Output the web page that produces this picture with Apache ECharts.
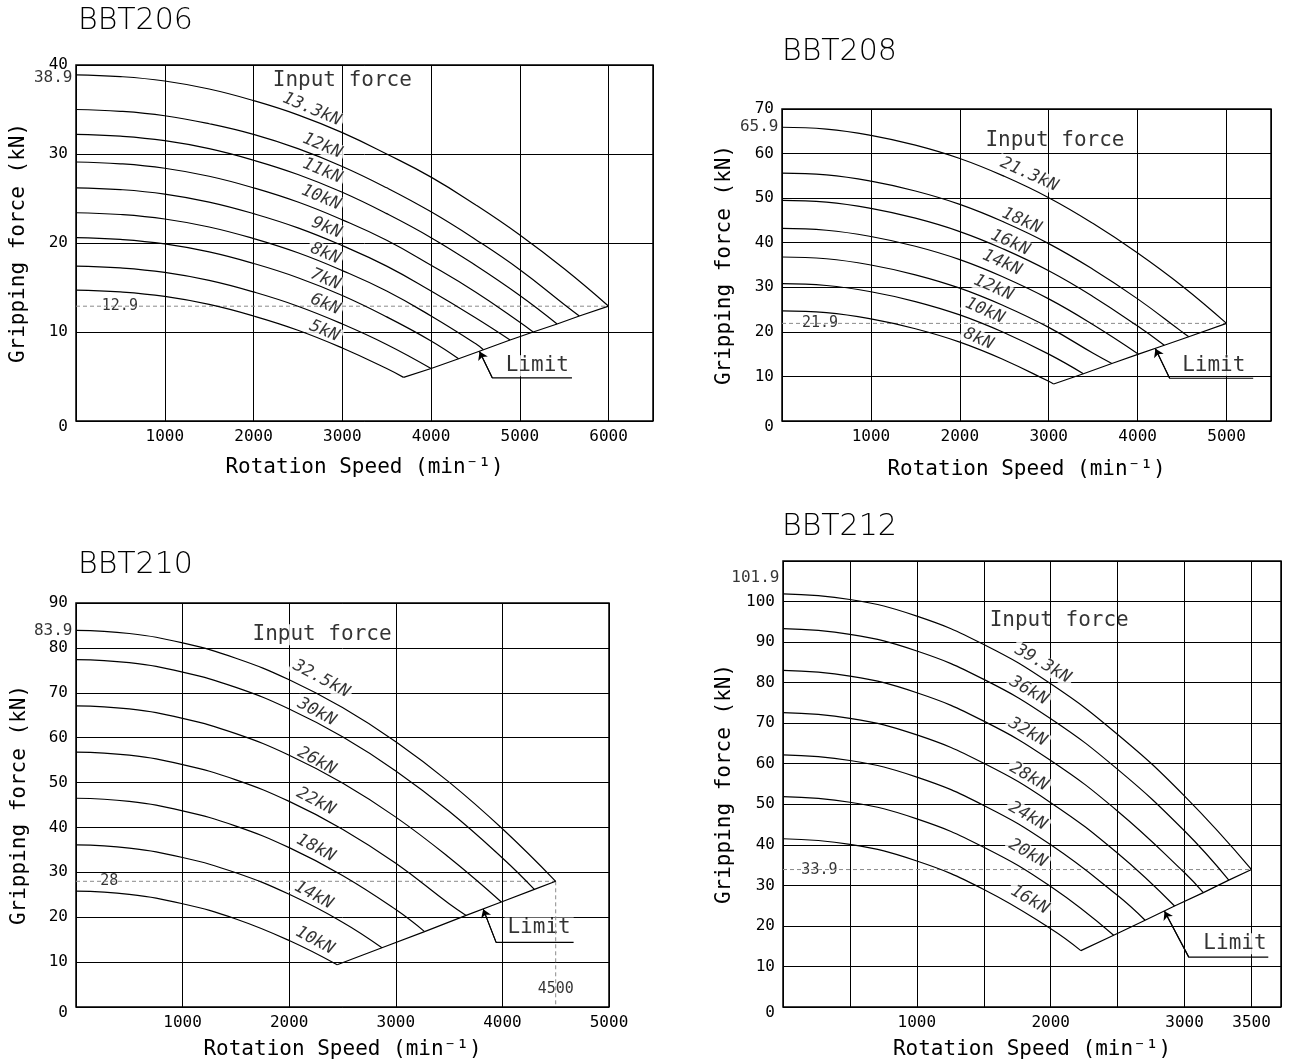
<!DOCTYPE html>
<html><head><meta charset="utf-8">
<script src="https://cdn.jsdelivr.net/npm/echarts@6/dist/echarts.min.js"></script>
<style>html,body{margin:0;padding:0;background:#fff}#c{width:1290px;height:1063px}</style>
</head><body><div id="c"></div>
<script>
// ---------- BBT206 ----------
const p1Forces = ['13.3kN','12kN','11kN','10kN','9kN','8kN','7kN','6kN','5kN'];
const bbt206_13_3 = [[0,38.9],[500,38.7],[1000,38.2],[1500,37.3],[2000,36.0],[2500,34.4],[3000,32.4],[3500,30.0],[4000,27.4],[4500,24.3],[5000,20.9],[5500,17.1],[6000,12.9]];
const bbt206_12 = [[0,35.0],[500,34.8],[1000,34.3],[1500,33.4],[2000,32.2],[2500,30.6],[3000,28.6],[3500,26.2],[4000,23.5],[4500,20.4],[5000,17.0],[5500,13.1],[5670,11.8]];
const bbt206_11 = [[0,32.2],[500,32.0],[1000,31.5],[1500,30.6],[2000,29.3],[2500,27.7],[3000,25.7],[3500,23.3],[4000,20.6],[4500,17.5],[5000,14.1],[5420,10.9]];
const bbt206_10 = [[0,29.1],[500,28.9],[1000,28.4],[1500,27.5],[2000,26.2],[2500,24.6],[3000,22.6],[3500,20.3],[4000,17.5],[4500,14.5],[5000,11.1],[5150,10.0]];
const bbt206_9 = [[0,26.2],[500,26.0],[1000,25.5],[1500,24.6],[2000,23.3],[2500,21.7],[3000,19.7],[3500,17.4],[4000,14.6],[4500,11.6],[4890,9.1]];
const bbt206_8 = [[0,23.4],[500,23.2],[1000,22.7],[1500,21.8],[2000,20.5],[2500,18.9],[3000,16.9],[3500,14.6],[4000,11.8],[4500,8.7],[4590,8.0]];
const bbt206_7 = [[0,20.6],[500,20.4],[1000,19.9],[1500,19.0],[2000,17.7],[2500,16.1],[3000,14.1],[3500,11.7],[4000,9.0],[4310,7.0]];
const bbt206_6 = [[0,17.4],[500,17.2],[1000,16.7],[1500,15.8],[2000,14.5],[2500,12.9],[3000,10.9],[3500,8.6],[4000,5.9]];
const bbt206_5 = [[0,14.7],[500,14.5],[1000,14.0],[1500,13.1],[2000,11.8],[2500,10.2],[3000,8.2],[3500,5.9],[3690,4.9]];
const bbt206_limit = [[3690,4.9],[4000,5.9],[4310,7.0],[4590,8.0],[4890,9.1],[5150,10.0],[5420,10.9],[5670,11.8],[6000,12.9]];
const bbt206_ref = 12.9, bbt206_refEnd = 6000, bbt206_start = '38.9';
const p1XTicks = [1000,2000,3000,4000,5000,6000];
const p1YTicks = [0,10,20,30,40];

// ---------- BBT208 ----------
const p2Forces = ['21.3kN','18kN','16kN','14kN','12kN','10kN','8kN'];
const bbt208_21_3 = [[0,65.9],[500,65.5],[1000,64.1],[1500,61.9],[2000,58.9],[2500,54.9],[3000,50.1],[3500,44.3],[4000,37.7],[4500,30.3],[5000,21.9]];
const bbt208_18 = [[0,55.6],[500,55.2],[1000,53.8],[1500,51.6],[2000,48.6],[2500,44.6],[3000,39.8],[3500,34.0],[4000,27.4],[4500,20.0],[4575,18.9]];
const bbt208_16 = [[0,49.5],[500,49.1],[1000,47.7],[1500,45.5],[2000,42.5],[2500,38.5],[3000,33.7],[3500,27.9],[4000,21.3],[4300,17.0]];
const bbt208_14 = [[0,43.2],[500,42.8],[1000,41.4],[1500,39.2],[2000,36.2],[2500,32.2],[3000,27.4],[3500,21.6],[4010,15.0]];
const bbt208_12 = [[0,36.8],[500,36.4],[1000,35.0],[1500,32.8],[2000,29.8],[2500,25.8],[3000,21.0],[3500,15.2],[3710,12.9]];
const bbt208_10 = [[0,30.8],[500,30.4],[1000,29.0],[1500,26.8],[2000,23.8],[2500,19.8],[3000,15.0],[3390,10.6]];
const bbt208_8 = [[0,24.7],[500,24.3],[1000,22.9],[1500,20.7],[2000,17.7],[2500,13.7],[3000,8.9],[3055,8.3]];
const bbt208_limit = [[3055,8.3],[3390,10.6],[3710,12.9],[4010,15.0],[4300,17.0],[4575,18.9],[5000,21.9]];
const bbt208_ref = 21.9, bbt208_refEnd = 5000, bbt208_start = '65.9';
const p2XTicks = [1000,2000,3000,4000,5000];
const p2YTicks = [0,10,20,30,40,50,60,70];

// ---------- BBT210 ----------
const p3Forces = ['32.5kN','30kN','26kN','22kN','18kN','14kN','10kN'];
const bbt210_32_5 = [[0,83.9],[500,83.2],[1000,81.1],[1500,77.7],[2000,72.9],[2500,66.7],[3000,59.1],[3500,50.1],[4000,39.7],[4500,28.0]];
const bbt210_30 = [[0,77.4],[500,76.7],[1000,74.6],[1500,71.2],[2000,66.4],[2500,60.2],[3000,52.6],[3500,43.6],[4000,33.2],[4300,26.2]];
const bbt210_26 = [[0,67.1],[500,66.4],[1000,64.3],[1500,60.9],[2000,56.1],[2500,49.9],[3000,42.3],[3500,33.3],[3990,23.4]];
const bbt210_22 = [[0,56.8],[500,56.1],[1000,54.0],[1500,50.6],[2000,45.8],[2500,39.6],[3000,32.0],[3500,23.0],[3660,20.4]];
const bbt210_18 = [[0,46.5],[500,45.8],[1000,43.7],[1500,40.3],[2000,35.5],[2500,29.3],[3000,21.7],[3270,16.8]];
const bbt210_14 = [[0,36.1],[500,35.4],[1000,33.3],[1500,29.9],[2000,25.1],[2500,18.9],[2870,13.2]];
const bbt210_10 = [[0,25.8],[500,25.1],[1000,23.0],[1500,19.6],[2000,14.8],[2450,9.4]];
const bbt210_limit = [[2450,9.4],[2870,13.2],[3270,16.8],[3660,20.4],[3990,23.4],[4300,26.2],[4500,28.0]];
const bbt210_ref = 28, bbt210_refEnd = 4500, bbt210_start = '83.9', bbt210_maxSpeed = 4500;
const p3XTicks = [1000,2000,3000,4000,5000];
const p3YTicks = [0,10,20,30,40,50,60,70,80,90];

// ---------- BBT212 ----------
const p4Forces = ['39.3kN','36kN','32kN','28kN','24kN','20kN','16kN'];
const bbt212_39_3 = [[0,101.9],[500,100.5],[1000,96.4],[1500,89.4],[2000,79.7],[2500,67.2],[3000,52.0],[3500,33.9]];
const bbt212_36 = [[0,93.3],[500,91.9],[1000,87.8],[1500,80.8],[2000,71.1],[2500,58.6],[3000,43.4],[3330,31.3]];
const bbt212_32 = [[0,83.0],[500,81.6],[1000,77.5],[1500,70.5],[2000,60.8],[2500,48.3],[3000,33.1],[3140,28.2]];
const bbt212_28 = [[0,72.6],[500,71.2],[1000,67.1],[1500,60.1],[2000,50.4],[2500,37.9],[2925,24.9]];
const bbt212_24 = [[0,62.2],[500,60.8],[1000,56.7],[1500,49.7],[2000,40.0],[2500,27.5],[2705,21.4]];
const bbt212_20 = [[0,51.9],[500,50.5],[1000,46.4],[1500,39.4],[2000,29.7],[2470,17.7]];
const bbt212_16 = [[0,41.5],[500,40.1],[1000,36.0],[1500,29.0],[2000,19.3],[2225,13.9]];
const bbt212_limit = [[2225,13.9],[2470,17.7],[2705,21.4],[2925,24.9],[3140,28.2],[3330,31.3],[3500,33.9]];
const bbt212_ref = 33.9, bbt212_refEnd = 3500, bbt212_start = '101.9';
const p4XTicks = [1000,2000,3000,3500];
const p4YTicks = [0,10,20,30,40,50,60,70,80,90,100];

// ---------- annotation anchors (data coordinates) ----------
const p1LabelAt = [[2656,35.0],[2774,30.9],[2774,28.1],[2760,25.1],[2822,21.7],[2808,18.8],[2808,15.9],[2808,13.1],[2798,10.1]];
const p2LabelAt = [[2780,55.3],[2695,44.9],[2568,40.0],[2475,35.5],[2377,29.9],[2280,24.7],[2208,18.4]];
const p3LabelAt = [[2300,73.1],[2257,65.7],[2257,54.8],[2249,45.8],[2249,35.4],[2229,24.9],[2241,14.8]];
const p4LabelAt = [[1941,84.6],[1836,78.0],[1828,67.8],[1836,56.8],[1828,47.1],[1828,37.9],[1842,26.4]];

const MONO = 'DejaVu Sans Mono';
const panels = [
  {title:'BBT206', tl:[78,6], grid:{left:76,top:65,width:577,height:356}, xMax:6500, xInt:1000, yMax:40,
   xTicks:p1XTicks, yTicks:p1YTicks, xGap:47, yGap:57,
   curves:[bbt206_13_3,bbt206_12,bbt206_11,bbt206_10,bbt206_9,bbt206_8,bbt206_7,bbt206_6,bbt206_5],
   forces:p1Forces, labelAt:p1LabelAt, rot:-23, limit:bbt206_limit,
   ref:bbt206_ref, refEnd:bbt206_refEnd, refLabelAt:[494,12.9], start:bbt206_start, startAt:38.6,
   input:[3000,38.2], inputBg:false,
   leader:[[5587,4.85],[4689,4.85],[4546,7.8]], limitText:[5197,6.2]},
  {title:'BBT208', tl:[782,37], grid:{left:782,top:109,width:489,height:312}, xMax:5500, xInt:1000, yMax:70,
   xTicks:p2XTicks, yTicks:p2YTicks, xGap:49, yGap:57,
   curves:[bbt208_21_3,bbt208_18,bbt208_16,bbt208_14,bbt208_12,bbt208_10,bbt208_8],
   forces:p2Forces, labelAt:p2LabelAt, rot:-24, limit:bbt208_limit,
   ref:bbt208_ref, refEnd:bbt208_refEnd, refLabelAt:[428,22.0], start:bbt208_start, startAt:66.0,
   input:[3070,63.0], inputBg:false,
   leader:[[5300,9.6],[4360,9.6],[4200,16.2]], limitText:[4856,12.5]},
  {title:'BBT210', tl:[78,550], grid:{left:76,top:603,width:533,height:404}, xMax:5000, xInt:1000, yMax:90,
   xTicks:p3XTicks, yTicks:p3YTicks, xGap:43, yGap:56,
   curves:[bbt210_32_5,bbt210_30,bbt210_26,bbt210_22,bbt210_18,bbt210_14,bbt210_10],
   forces:p3Forces, labelAt:p3LabelAt, rot:-28, limit:bbt210_limit,
   ref:bbt210_ref, refEnd:bbt210_refEnd, refLabelAt:[312,28.1], start:bbt210_start, startAt:83.8,
   input:[2308,82.9], inputBg:true,
   leader:[[4668,14.4],[3941,14.4],[3820,21.8]], limitText:[4344,17.6]},
  {title:'BBT212', tl:[782,512], grid:{left:783,top:561,width:498,height:446}, xMax:3720, xInt:500, yMax:110,
   xTicks:p4XTicks, yTicks:p4YTicks, xGap:43, yGap:58,
   curves:[bbt212_39_3,bbt212_36,bbt212_32,bbt212_28,bbt212_24,bbt212_20,bbt212_16],
   forces:p4Forces, labelAt:p4LabelAt, rot:-30, limit:bbt212_limit,
   ref:bbt212_ref, refEnd:bbt212_refEnd, refLabelAt:[272,33.8], start:bbt212_start, startAt:105.9,
   input:[2063,95.2], inputBg:false,
   leader:[[3625,12.3],[3031,12.3],[2850,23.6]], limitText:[3376,15.6]}
];

const option = {
  animation:false,
  backgroundColor:'#fff',
  title:[], grid:[], xAxis:[], yAxis:[], series:[]
};

panels.forEach((p, i) => {
  option.title.push({text:p.title, left:p.tl[0], top:p.tl[1], padding:0,
    textStyle:{fontFamily:'DejaVu Sans', fontSize:30, fontWeight:200, color:'#000'}});
  option.grid.push(Object.assign({show:true, borderColor:'#000', borderWidth:1.5, backgroundColor:'#fff', containLabel:false, outerBoundsMode:'none'}, p.grid));
  option.xAxis.push({type:'value', gridIndex:i, min:0, max:p.xMax, interval:p.xInt,
    axisLine:{show:false}, axisTick:{show:false},
    splitLine:{show:true, lineStyle:{color:'#000', width:1}},
    axisLabel:{fontFamily:MONO, fontSize:16, color:'#000', margin:8, showMaxLabel:true, showMinLabel:true,
      formatter:v => p.xTicks.includes(v) ? String(v) : ''},
    name:'Rotation Speed (min\u207B\u00B9)', nameLocation:'middle', nameGap:p.xGap,
    nameTextStyle:{fontFamily:MONO, fontSize:21, color:'#000', verticalAlign:'middle'}});
  option.yAxis.push({type:'value', gridIndex:i, min:0, max:p.yMax, interval:10,
    axisLine:{show:false}, axisTick:{show:false},
    splitLine:{show:true, lineStyle:{color:'#000', width:1}},
    axisLabel:{fontFamily:MONO, fontSize:16, color:'#000', margin:8, showMaxLabel:true,
      formatter:v => v === 0 ? '{z|0}' : (p.yTicks.includes(v) ? String(v) : ''),
      rich:{z:{fontFamily:MONO, fontSize:16, color:'#000', padding:[12,0,0,0]}}},
    name:'Gripping force (kN)', nameLocation:'middle', nameGap:p.yGap, nameRotate:90,
    nameTextStyle:{fontFamily:MONO, fontSize:21, color:'#000', verticalAlign:'middle'}});

  const ax = {xAxisIndex:i, yAxisIndex:i, silent:true};
  p.curves.forEach((c, k) => {
    option.series.push(Object.assign({type:'line', name:p.title + ' ' + p.forces[k], data:c,
      smooth:0.45, symbol:'none', showSymbol:false,
      lineStyle:{color:'#000', width:1.2}, z:3}, ax));
  });
  option.series.push(Object.assign({type:'line', name:p.title + ' Limit', data:p.limit, symbol:'none',
    lineStyle:{color:'#000', width:1.2}, z:3}, ax));
  // dashed reference line
  option.series.push(Object.assign({type:'line', data:[[0,p.ref],[p.refEnd,p.ref]], symbol:'none',
    lineStyle:{color:'#8a8a8a', width:1, type:[4,3]}, z:2}, ax));
  if (i === 2) {
    option.series.push(Object.assign({type:'line', data:[[bbt210_maxSpeed,p.ref],[bbt210_maxSpeed,0]], symbol:'none',
      lineStyle:{color:'#8a8a8a', width:1, type:[4,3]}, z:2}, ax));
  }
  // Limit leader
  option.series.push(Object.assign({type:'line', data:p.leader, symbol:'none',
    lineStyle:{color:'#000', width:1.1}, z:3,
    markLine:{silent:true, symbol:['none','arrow'], symbolSize:8, label:{show:false},
      lineStyle:{color:'#000', width:1.1, type:'solid'},
      data:[[{coord:p.leader[1]},{coord:p.leader[2]}]]}}, ax));

  // text annotations
  const items = [];
  p.forces.forEach((f, k) => {
    items.push({value:p.labelAt[k], label:{formatter:f, rotate:p.rot, fontFamily:MONO, fontStyle:'italic',
      fontSize:17, backgroundColor:'#fff', padding:[0,3]}});
  });
  items.push({value:p.refLabelAt, label:{formatter:String(p.ref), fontFamily:MONO, fontSize:15,
    backgroundColor:'#fff', padding:[0,4]}});
  items.push({value:p.limitText, label:{formatter:'Limit', fontFamily:MONO, fontSize:21,
    backgroundColor:'#fff', padding:[0,3]}});
  items.push({value:p.input, label:{formatter:'Input force', fontFamily:MONO, fontSize:21,
    backgroundColor:p.inputBg ? '#fff' : 'transparent', padding:[0,2]}});
  items.push({value:[0,p.startAt], label:{formatter:p.start, fontFamily:MONO, fontSize:16,
    position:'left', distance:3}});
  if (i === 2) {
    items.push({value:[bbt210_maxSpeed,4.0], label:{formatter:String(bbt210_maxSpeed), fontFamily:MONO, fontSize:15,
      backgroundColor:'#fff', padding:[1,3]}});
  }
  option.series.push(Object.assign({type:'scatter', data:items, symbol:'circle', symbolSize:1, clip:false,
    itemStyle:{color:'rgba(0,0,0,0)'}, z:1,
    label:{show:true, position:'inside', color:'#000'}}, ax));
});

const chart = echarts.init(document.getElementById('c'), null, {renderer:'canvas'});
chart.setOption(option);
</script></body></html>
